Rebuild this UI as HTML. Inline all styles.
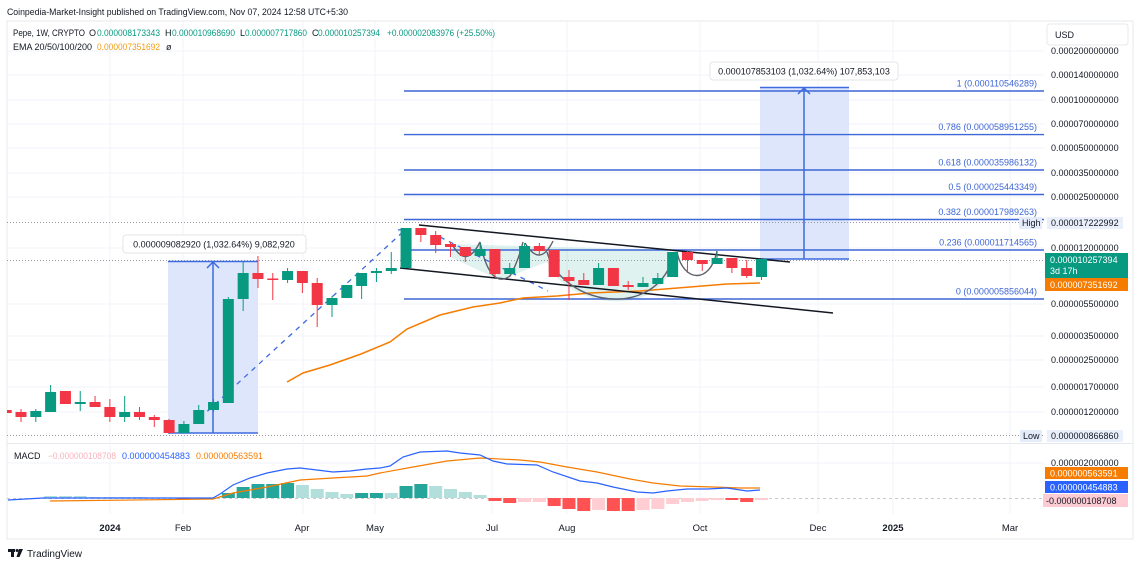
<!DOCTYPE html>
<html><head><meta charset="utf-8"><style>
html,body{margin:0;padding:0;background:#fff;}
svg{display:block;}
text{font-family:"Liberation Sans",Arial,sans-serif;}
</style></head><body>
<svg width="1140" height="567" viewBox="0 0 1140 567" xmlns="http://www.w3.org/2000/svg">
<rect width="1140" height="567" fill="#fff"/>
<defs><clipPath id="pane"><rect x="7" y="21" width="1037" height="422"/></clipPath>
<clipPath id="mpane"><rect x="7" y="444" width="1037" height="70"/></clipPath></defs>

<!-- header -->
<text x="7" y="15" font-size="9.5" fill="#131722" textLength="341" lengthAdjust="spacingAndGlyphs">Coinpedia-Market-Insight published on TradingView.com, Nov 07, 2024 12:58 UTC+5:30</text>

<!-- frame -->
<rect x="7" y="21" width="1126" height="518" fill="none" stroke="#e6e8ee" stroke-width="1"/>
<line x1="7" y1="443.5" x2="1133" y2="443.5" stroke="#e6e8ee"/>

<!-- grid -->
<g stroke="#f0f3fa" stroke-width="1">
<path d="M7 51H1044M7 75H1044M7 100H1044M7 124H1044M7 148H1044M7 173H1044M7 197H1044M7 248H1044M7 304H1044M7 336H1044M7 360H1044M7 387H1044M7 412H1044M7 463H1044"/>
<path d="M110 21V514M183 21V514M303 21V514M375 21V514M492 21V514M567 21V514M700 21V514M818 21V514M893 21V514M1010 21V514"/>
</g>

<g clip-path="url(#pane)">
<!-- measure boxes -->
<rect x="168" y="261" width="90" height="172" fill="#dde6fb"/>
<rect x="760" y="87" width="89" height="172" fill="#dde6fb"/>

<!-- cup shading -->
<path d="M452 244 L668 250 L668 275 C645 318 565 305 547 262 L500 280 L452 258 Z" fill="rgba(8,153,129,0.13)"/>

<!-- fib lines -->
<g stroke="#3d66d6" stroke-width="1.4">
<path d="M404 91H1044M404 134.6H1044M404 170H1044M404 194.5H1044M404 219.5H1044M404 250H1044M404 299H1044"/>
</g>
<g font-size="9" fill="#3d66d6" text-anchor="end">
<text x="1037" y="86.5">1 (0.000110546289)</text>
<text x="1037" y="130">0.786 (0.000058951255)</text>
<text x="1037" y="165.5">0.618 (0.000035986132)</text>
<text x="1037" y="190">0.5 (0.000025443349)</text>
<text x="1037" y="215">0.382 (0.000017989263)</text>
<text x="1037" y="245.5">0.236 (0.000011714565)</text>
<text x="1037" y="294.5">0 (0.000005856044)</text>
</g>

<!-- dotted lines -->
<g stroke="#9598a1" stroke-width="1" stroke-dasharray="1,2">
<path d="M7 222.5H1044M7 435.5H1044M7 260.5H1044"/>
</g>

<!-- measure lines -->
<g stroke="#3e6ae1" stroke-width="1.5" fill="none">
<path d="M168 261.5H258M168 433H258M213 433V262M207 268L213 262L219 268"/>
<path d="M760 87.5H849M760 259H849M804 259V88M798 94L804 88L810 94"/>
</g>

<!-- dashed lines -->
<g stroke="#3e6ae1" stroke-width="1.3" stroke-dasharray="5,5" fill="none">
<path d="M200 418L405 230"/>
<path d="M440 237L548 291"/>
</g>
<path d="M398 230L406 229L404 237" stroke="#3e6ae1" stroke-width="1.3" fill="none"/>

<!-- EMA -->
<polyline points="287,382 303,373 330,365 361,354 390,342 407,329 440,315 473,307 500,303 523,298 557,296 590,293 640,291 690,287 727,284 760,283" fill="none" stroke="#f57c00" stroke-width="1.5"/>

<!-- channel -->
<g stroke="#131722" stroke-width="1.5">
<line x1="419" y1="225" x2="790" y2="262"/>
<line x1="400" y1="268" x2="833" y2="313"/>
</g>

<!-- arcs -->
<g stroke="#5d606b" stroke-width="1.4" fill="none">
<path d="M452 244 Q466 270 480 242"/>
<path d="M480 242 Q490 290 510 276 Q518 262 523 242"/>
<path d="M525 243 Q540 268 553 241"/>
<path d="M547 252 C560 300 640 320 668 270"/>
<path d="M677 252 C683 282 710 285 717 251"/>
</g>

<!-- candles green -->
<g>
<path d="M35.81 409V422M50.62 385V412M80.24 391V411M124.67 396V422M183.91 421V433M198.72 405V424M213.53 399V412M228.34 297V403M243.15 262V311M287.58 268V283M332.01 296V317M346.82 285V298M361.63 273V299M376.44 268V282M391.25 252V274M406.06 228V268M480.11 243V256M509.73 263V274M524.54 243V268M598.59 263V285M643.02 277V287M657.83 273V284M672.64 252V277M717.07 252V264M761.5 259V280" stroke="#089981" stroke-width="1"/>
<g fill="#089981">
<rect x="30.31" y="411" width="11" height="6"/>
<rect x="45.12" y="392" width="11" height="20"/>
<rect x="74.74" y="402" width="11" height="2"/>
<rect x="119.17" y="412" width="11" height="5"/>
<rect x="178.41" y="424" width="11" height="9"/>
<rect x="193.22" y="410" width="11" height="14"/>
<rect x="208.03" y="402" width="11" height="8"/>
<rect x="222.84" y="299" width="11" height="104"/>
<rect x="237.65" y="273" width="11" height="26"/>
<rect x="282.08" y="271" width="11" height="9"/>
<rect x="326.51" y="298" width="11" height="7"/>
<rect x="341.32" y="285" width="11" height="13"/>
<rect x="356.13" y="273" width="11" height="13"/>
<rect x="370.94" y="271" width="11" height="2"/>
<rect x="385.75" y="268" width="11" height="3"/>
<rect x="400.56" y="228" width="11" height="40"/>
<rect x="474.61" y="249" width="11" height="7"/>
<rect x="504.23" y="268" width="11" height="6"/>
<rect x="519.04" y="246" width="11" height="22"/>
<rect x="593.09" y="268" width="11" height="17"/>
<rect x="637.52" y="283" width="11" height="4"/>
<rect x="652.33" y="278" width="11" height="6"/>
<rect x="667.14" y="252" width="11" height="25"/>
<rect x="711.57" y="258" width="11" height="6"/>
<rect x="756" y="259" width="11" height="18"/>
</g>
</g>
<!-- candles red -->
<g>
<path d="M6.19 409V413M21 409V422M65.43 391V404M95.05 396V407M109.86 399V422M139.48 407V420M154.29 415V427M169.1 419V433M257.96 256V288M272.77 273V300M302.39 271V293M317.2 278V327M420.87 228V242M435.68 231V253M450.49 242V257M465.3 247V262M494.92 249V277M539.35 243V255M554.16 250V277M568.97 270V300M583.78 273V285M613.4 268V286M628.21 281V290M687.45 250V273M702.26 260V271M731.88 258V273M746.69 260V278" stroke="#f23645" stroke-width="1"/>
<g fill="#f23645">
<rect x="0.69" y="410" width="11" height="3"/>
<rect x="15.5" y="412" width="11" height="5"/>
<rect x="59.93" y="391" width="11" height="13"/>
<rect x="89.55" y="402" width="11" height="5"/>
<rect x="104.36" y="407" width="11" height="10"/>
<rect x="133.98" y="412" width="11" height="5"/>
<rect x="148.79" y="417" width="11" height="3"/>
<rect x="163.6" y="420" width="11" height="13"/>
<rect x="252.46" y="273" width="11" height="6"/>
<rect x="267.27" y="278.5" width="11" height="1.5"/>
<rect x="296.89" y="271" width="11" height="12"/>
<rect x="311.7" y="283" width="11" height="22"/>
<rect x="415.37" y="228" width="11" height="7"/>
<rect x="430.18" y="235" width="11" height="10"/>
<rect x="444.99" y="244" width="11" height="3"/>
<rect x="459.8" y="247" width="11" height="9"/>
<rect x="489.42" y="249" width="11" height="25"/>
<rect x="533.85" y="246" width="11" height="5"/>
<rect x="548.66" y="250" width="11" height="27"/>
<rect x="563.47" y="277" width="11" height="4"/>
<rect x="578.28" y="280" width="11" height="5"/>
<rect x="607.9" y="268" width="11" height="18"/>
<rect x="622.71" y="285" width="11" height="2"/>
<rect x="681.95" y="252" width="11" height="8"/>
<rect x="696.76" y="260" width="11" height="4"/>
<rect x="726.38" y="258" width="11" height="10"/>
<rect x="741.19" y="268" width="11" height="8"/>
</g>
</g>
</g>

<!-- measure labels -->
<rect x="123" y="235" width="183" height="18" rx="3" fill="#fff" stroke="#e3e5ea"/>
<text x="214" y="247.5" font-size="9" fill="#131722" text-anchor="middle">0.000009082920 (1,032.64%) 9,082,920</text>
<rect x="710" y="62" width="188" height="18" rx="3" fill="#fff" stroke="#e3e5ea"/>
<text x="804" y="74.5" font-size="9" fill="#131722" text-anchor="middle">0.000107853103 (1,032.64%) 107,853,103</text>

<!-- legend -->
<g font-size="9">
<text x="13" y="36" fill="#131722" textLength="72" lengthAdjust="spacingAndGlyphs">Pepe, 1W, CRYPTO</text>
<text x="89" y="36" fill="#131722">O</text>
<text x="97" y="36" fill="#089981" textLength="63" lengthAdjust="spacingAndGlyphs">0.000008173343</text>
<text x="165" y="36" fill="#131722">H</text>
<text x="172" y="36" fill="#089981" textLength="63" lengthAdjust="spacingAndGlyphs">0.000010968690</text>
<text x="240" y="36" fill="#131722">L</text>
<text x="245" y="36" fill="#089981" textLength="62" lengthAdjust="spacingAndGlyphs">0.000007717860</text>
<text x="312" y="36" fill="#131722">C</text>
<text x="318" y="36" fill="#089981" textLength="62" lengthAdjust="spacingAndGlyphs">0.000010257394</text>
<text x="387" y="36" fill="#089981" textLength="108" lengthAdjust="spacingAndGlyphs">+0.000002083976 (+25.50%)</text>
<text x="13" y="50" fill="#131722" textLength="79" lengthAdjust="spacingAndGlyphs">EMA 20/50/100/200</text>
<text x="97" y="50" fill="#f39c12" textLength="63" lengthAdjust="spacingAndGlyphs">0.000007351692</text>
<text x="166" y="50" fill="#131722">ø</text>
</g>

<!-- MACD pane -->
<g clip-path="url(#mpane)">
<line x1="7" y1="498.5" x2="1044" y2="498.5" stroke="#c8cad0" stroke-dasharray="3,3"/>
<g fill="#b2dfdb">
<rect x="44.12" y="496" width="13" height="2"/><rect x="58.93" y="496" width="13" height="2"/><rect x="73.74" y="496" width="13" height="2"/>
<rect x="88.55" y="497" width="13" height="1"/><rect x="103.36" y="497" width="13" height="1"/><rect x="118.17" y="497" width="13" height="1"/><rect x="132.98" y="497" width="13" height="1"/>
<rect x="295.89" y="485" width="13" height="13"/><rect x="310.7" y="489" width="13" height="9"/><rect x="325.51" y="492" width="13" height="6"/><rect x="340.32" y="494" width="13" height="4"/>
<rect x="384.75" y="493" width="13" height="5"/>
<rect x="429.18" y="486" width="13" height="12"/><rect x="443.99" y="489" width="13" height="9"/><rect x="458.8" y="492" width="13" height="6"/><rect x="473.61" y="495" width="13" height="3"/>
</g>
<g fill="#26a69a">
<rect x="221.84" y="493" width="13" height="5"/><rect x="236.65" y="487" width="13" height="11"/><rect x="251.46" y="484" width="13" height="14"/><rect x="266.27" y="484" width="13" height="14"/><rect x="281.08" y="483" width="13" height="15"/>
<rect x="355.13" y="493" width="13" height="5"/><rect x="369.94" y="493" width="13" height="5"/>
<rect x="399.56" y="486" width="13" height="12"/><rect x="414.37" y="484" width="13" height="14"/>
</g>
<g fill="#ff5252">
<rect x="177.41" y="498" width="13" height="1.5"/>
<rect x="488.42" y="498" width="13" height="3"/><rect x="503.23" y="498" width="13" height="5"/>
<rect x="547.66" y="498" width="13" height="8"/><rect x="562.47" y="498" width="13" height="11"/><rect x="577.28" y="498" width="13" height="13"/>
<rect x="606.9" y="498" width="13" height="13"/><rect x="621.71" y="498" width="13" height="13"/>
<rect x="725.38" y="498" width="13" height="2"/><rect x="740.19" y="498" width="13" height="4"/>
</g>
<g fill="#ffcdd2">
<rect x="518.04" y="498" width="13" height="4"/><rect x="532.85" y="498" width="13" height="4"/>
<rect x="592.09" y="498" width="13" height="12"/>
<rect x="636.52" y="498" width="13" height="12"/><rect x="651.33" y="498" width="13" height="11"/><rect x="666.14" y="498" width="13" height="6"/><rect x="680.95" y="498" width="13" height="4"/><rect x="695.76" y="498" width="13" height="3"/><rect x="710.57" y="498" width="13" height="2"/>
<rect x="755" y="498" width="13" height="2"/>
</g>
<polyline points="50,501 213,499 233,493 267,487 300,480 333,478 367,476 380,473 413,467 447,461 480,458 520,460 540,462 567,467 597,472 630,479 653,483 680,486 713,487 740,488 760,488" fill="none" stroke="#f57c00" stroke-width="1.2"/>
<polyline points="8,500 43,498 213,498 220,494 233,485 250,478 267,473 287,469 300,468 317,470 333,472 350,471 367,469 380,468 390,466 403,457 420,452 447,451 460,453 480,455 493,461 507,464 537,465 553,472 580,481 597,483 613,487 637,492 653,493 667,491 687,489 707,489 727,488 747,491 760,490" fill="none" stroke="#2962ff" stroke-width="1.2"/>
</g>
<g font-size="9">
<text x="14" y="459" fill="#131722">MACD</text>
<text x="48" y="459" fill="#f7b3be" textLength="68" lengthAdjust="spacingAndGlyphs">−0.000000108708</text>
<text x="122" y="459" fill="#2962ff" textLength="68" lengthAdjust="spacingAndGlyphs">0.000000454883</text>
<text x="196" y="459" fill="#f57c00" textLength="67" lengthAdjust="spacingAndGlyphs">0.000000563591</text>
</g>

<!-- price axis -->
<g font-size="9" fill="#131722">
<text x="1051" y="54">0.000200000000</text>
<text x="1051" y="78">0.000140000000</text>
<text x="1051" y="103">0.000100000000</text>
<text x="1051" y="127">0.000070000000</text>
<text x="1051" y="151">0.000050000000</text>
<text x="1051" y="176">0.000035000000</text>
<text x="1051" y="200">0.000025000000</text>
<text x="1051" y="251">0.000012000000</text>
<text x="1051" y="307">0.000005500000</text>
<text x="1051" y="339">0.000003500000</text>
<text x="1051" y="363">0.000002500000</text>
<text x="1051" y="390">0.000001700000</text>
<text x="1051" y="415">0.000001200000</text>
<text x="1051" y="466">0.000002000000</text>
</g>
<rect x="1047" y="24" width="81" height="21" rx="3" fill="#fff" stroke="#e6e8ee"/>
<text x="1055" y="38" font-size="9" fill="#131722">USD</text>

<rect x="1019" y="217" width="23" height="12" fill="#e4ebf9"/>
<text x="1022" y="226" font-size="9" fill="#131722">High</text>
<rect x="1047" y="217" width="76" height="12" fill="#eaf0fb"/>
<text x="1051" y="226" font-size="9" fill="#131722">0.000017222992</text>

<rect x="1020" y="430" width="22" height="12" fill="#e4ebf9"/>
<text x="1023" y="439" font-size="9" fill="#131722">Low</text>
<rect x="1047" y="430" width="76" height="12" fill="#eaf0fb"/>
<text x="1051" y="439" font-size="9" fill="#131722">0.000000866860</text>

<rect x="1045" y="253" width="83" height="25" fill="#089981"/>
<text x="1050" y="263" font-size="9" fill="#fff">0.000010257394</text>
<text x="1050" y="274" font-size="9" fill="#fff">3d 17h</text>
<rect x="1045" y="278" width="83" height="13" fill="#f57c00"/>
<text x="1050" y="288" font-size="9" fill="#fff">0.000007351692</text>

<rect x="1045" y="467" width="83" height="12" fill="#f57c00"/>
<text x="1050" y="476.5" font-size="9" fill="#fff">0.000000563591</text>
<rect x="1045" y="481" width="83" height="12" fill="#2962ff"/>
<text x="1050" y="490.5" font-size="9" fill="#fff">0.000000454883</text>
<rect x="1043" y="494" width="85" height="13" fill="#fccbd3"/>
<text x="1046" y="504" font-size="9" fill="#131722">-0.000000108708</text>

<!-- time axis -->
<g font-size="9.5" fill="#131722" text-anchor="middle">
<text x="110" y="531" font-weight="bold">2024</text>
<text x="183" y="531">Feb</text>
<text x="302" y="531">Apr</text>
<text x="375" y="531">May</text>
<text x="492" y="531">Jul</text>
<text x="567" y="531">Aug</text>
<text x="700" y="531">Oct</text>
<text x="818" y="531">Dec</text>
<text x="893" y="531" font-weight="bold">2025</text>
<text x="1010" y="531">Mar</text>
</g>

<!-- logo -->
<g fill="#131722">
<rect x="8" y="549" width="7" height="3"/>
<rect x="11" y="549" width="3" height="8"/>
<circle cx="17" cy="550.5" r="1.5"/>
<path d="M19 549H23L19.5 557H16.5Z"/>
</g>
<text x="27" y="557" font-size="10" fill="#131722">TradingView</text>
</svg>
</body></html>
